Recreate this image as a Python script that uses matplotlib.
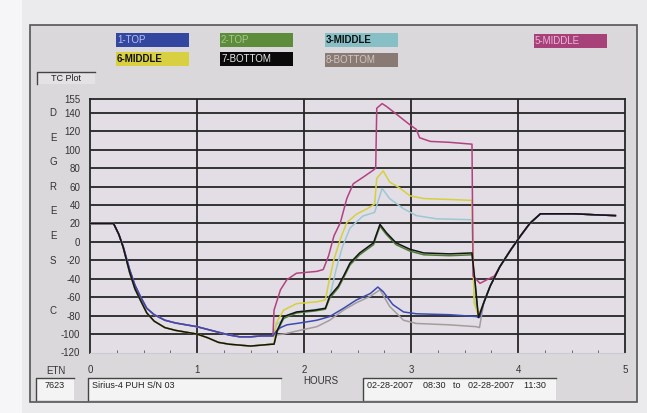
import matplotlib
matplotlib.use("Agg")
import matplotlib.pyplot as plt
from matplotlib.patches import Rectangle
from matplotlib.ticker import MultipleLocator

plt.rcParams['font.family'] = ['Liberation Sans Narrow', 'Liberation Sans', 'DejaVu Sans']

# ---------------- data ----------------
series_names = ["1-TOP", "2-TOP", "3-MIDDLE", "5-MIDDLE", "6-MIDDLE", "7-BOTTOM", "8-BOTTOM"]

t_cool = [0, 0.22, 0.27, 0.31, 0.37, 0.42, 0.47, 0.53, 0.60, 0.70, 0.80, 0.90,
          1.00, 1.10, 1.20, 1.30, 1.40, 1.50, 1.60, 1.70]
cool_upper = [20, 20, 8, -5, -30, -47, -59, -72, -79, -85, -88, -90,
              -92, -95, -98, -101, -103, -103, -102, -102]
cool_lower = [20, 20, 8, -6, -33, -51, -63, -77, -86, -93, -96, -98,
              -100, -104, -109, -111, -112, -113, -112, -111]

t_warm = [3.68, 3.74, 3.83, 3.93, 4.02, 4.11, 4.21, 4.35, 4.52, 4.70, 4.91]
warm = [-66, -48, -27, -9, 6, 20, 30.5, 30.5, 30.5, 29.5, 28.5]

t_top1 = [1.71, 1.74, 1.78, 1.84, 1.96, 2.12, 2.24, 2.37, 2.49, 2.62, 2.69, 2.74,
          2.83, 2.93, 3.05, 3.36, 3.61, 3.64]
v_top1 = [-102, -97, -93, -90, -88, -85, -81, -72, -63, -56, -49, -54,
          -68, -76, -78, -79, -81, -82]

t_bot7 = [1.72, 1.75, 1.81, 1.93, 2.10, 2.20, 2.24, 2.32, 2.37, 2.43, 2.52, 2.65,
          2.67, 2.71, 2.77, 2.86, 2.99, 3.12, 3.36, 3.57, 3.60, 3.63]
v_bot7 = [-111, -96, -81, -76, -74, -72, -59, -48, -37, -23, -12, -1,
          6, 19, 10, -1, -8, -12, -13, -12, -45, -82]
v_top2 = [-111, -97, -83, -77, -75, -73, -61, -50, -39, -25, -14, -3,
          4, 17, 8, -3, -10, -14, -15, -14, -47, -82]

t_mid6 = [1.72, 1.74, 1.81, 1.93, 2.12, 2.20, 2.23, 2.28, 2.34, 2.40, 2.49, 2.59,
          2.66, 2.68, 2.74, 2.80, 2.90, 2.99, 3.12, 3.36, 3.57, 3.59, 3.63]
v_mid6 = [-111, -88, -74, -67, -65, -63, -45, -19, 3, 21, 30, 36,
          41, 69, 77, 65, 58, 50, 47, 46, 45, -66, -80]

t_mid3 = [1.71, 1.74, 1.85, 2.00, 2.20, 2.25, 2.30, 2.36, 2.43, 2.55, 2.66, 2.73,
          2.80, 2.93, 3.05, 3.24, 3.57, 3.59, 3.63]
v_mid3 = [-102, -90, -80, -75, -72, -55, -30, -5, 15, 28, 32, 58,
          47, 36, 28.5, 25, 24, -60, -80]

t_mid5 = [1.71, 1.72, 1.78, 1.84, 1.93, 2.12, 2.18, 2.23, 2.28, 2.34, 2.40, 2.46,
          2.55, 2.65, 2.67, 2.68, 2.73, 2.77, 2.87, 2.99, 3.05, 3.08, 3.18, 3.36,
          3.57, 3.58, 3.645, 3.71, 3.78]
v_mid5 = [-102, -74, -52, -41, -34, -32, -30, -15, 6.5, 21, 47, 63,
          70, 78, 80, 145, 150, 147, 138, 127, 122, 113, 109, 108,
          106, -37, -45, -41, -37]

t_bot8 = [1.71, 1.74, 1.81, 1.96, 2.12, 2.24, 2.37, 2.49, 2.62, 2.71, 2.80, 2.93,
          3.05, 3.36, 3.61, 3.64]
v_bot8 = [-102, -101, -100, -96, -92, -85, -74, -66, -59, -52, -70, -85,
          -88.5, -90, -92, -93]

y_ticks = [155, 140, 120, 100, 80, 60, 40, 20, 0, -20, -40, -60, -80, -100, -120]
x_ticks = [0, 1, 2, 3, 4, 5]
ylabel_letters = ["D", "E", "G", "R", "E", "E", "S", "C"]
ylabel_pos = [140, 113, 87, 60, 33, 6.5, -21, -75]

# ---------------- colours ----------------
line_colors = {"1-TOP": "#3b4bb0", "2-TOP": "#4d7d33", "3-MIDDLE": "#9cc8d2",
               "5-MIDDLE": "#b2427f", "6-MIDDLE": "#d6d03c", "7-BOTTOM": "#151515",
               "8-BOTTOM": "#a59c9c"}
legend_colors = {"1-TOP": "#3347a0", "2-TOP": "#5d8d3b", "3-MIDDLE": "#86bfc6",
                 "5-MIDDLE": "#a8407a", "6-MIDDLE": "#d8d040", "7-BOTTOM": "#0a0a0a",
                 "8-BOTTOM": "#8a7a74"}
legend_text = {"1-TOP": "#b8c0ee", "2-TOP": "#a8c890", "3-MIDDLE": "#111111",
               "5-MIDDLE": "#e8b8d8", "6-MIDDLE": "#111111", "7-BOTTOM": "#e8e8e8",
               "8-BOTTOM": "#d0c8c4"}

W, H = 647, 413
fig = plt.figure(figsize=(W / 100, H / 100), dpi=100)
fig.patch.set_facecolor("#ebebee")

# background (pixel coordinates)
bg = fig.add_axes([0, 0, 1, 1])
bg.set_xlim(0, W)
bg.set_ylim(H, 0)
bg.axis("off")
bg.add_patch(Rectangle((0, 0), 22, H, facecolor="#f6f6f8", edgecolor="none"))
bg.add_patch(Rectangle((30, 25), 607, 377, facecolor="#dbd8db", edgecolor="#555555", lw=1.2))

# legend patches
legend_layout = {"1-TOP": (116, 33), "2-TOP": (220, 33), "3-MIDDLE": (325, 33),
                 "5-MIDDLE": (534, 34), "6-MIDDLE": (116, 52), "7-BOTTOM": (220, 52),
                 "8-BOTTOM": (325, 53)}
for name in series_names:
    x0, y0 = legend_layout[name]
    bg.add_patch(Rectangle((x0, y0), 73, 14, facecolor=legend_colors[name], edgecolor="none"))
    bold = legend_text[name] == "#111111"
    bg.text(x0 + 1, y0 + 7, name, color=legend_text[name], fontsize=7,
            fontweight="bold" if bold else "normal", va="center", ha="left")

# TC Plot box
bg.add_patch(Rectangle((37, 72), 58, 12, facecolor="#e4e2e4", edgecolor="none"))
bg.plot([37, 37, 95], [84, 72, 72], color="#444444", lw=1)
bg.text(66, 78.5, "TC Plot", fontsize=6.5, color="#222222", ha="center", va="center")

# DEGREES C letters
# (positioned after main axes is created)

# bottom boxes
def sunk_box(x0, y0, w, h, text, ha="left"):
    bg.add_patch(Rectangle((x0, y0), w, h, facecolor="#f4f4f4", edgecolor="none"))
    bg.plot([x0, x0, x0 + w], [y0 + h, y0, y0], color="#444444", lw=1)
    if ha == "left":
        bg.text(x0 + 4, y0 + 7, text, fontsize=6.5, color="#222222", ha="left", va="center")
    else:
        bg.text(x0 + w / 2, y0 + 7, text, fontsize=6.5, color="#222222", ha="center", va="center")

bg.text(56, 371, "ETN", fontsize=7, color="#333333", ha="center", va="center")
sunk_box(36, 378, 38, 22, "7623", ha="center")
sunk_box(88, 378, 193, 22, "Sirius-4 PUH S/N 03")
sunk_box(363, 378, 193, 22, "02-28-2007    08:30   to   02-28-2007    11:30")
bg.text(321, 381, "HOURS", fontsize=7, color="#333333", ha="center", va="center")

# ---------------- main plot ----------------
left, right, top, bottom = 90, 625, 99, 352.5
ax = fig.add_axes([left / W, (H - bottom) / H, (right - left) / W, (bottom - top) / H])
ax.set_facecolor("#e3dde6")
ax.set_xlim(0, 5)
ax.set_ylim(-120, 155)

for yv in y_ticks[1:-1]:
    ax.axhline(yv, color="#262626", lw=1.3, zorder=1)
for xv in x_ticks[1:-1]:
    ax.axvline(xv, color="#262626", lw=1.3, zorder=1)

def build(tmid, vmid, cool, warm_from=0):
    t = list(t_cool) + list(tmid) + list(t_warm[warm_from:])
    v = list(cool) + list(vmid) + list(warm[warm_from:])
    return t, v

curves = {
    "8-BOTTOM": build(t_bot8, v_bot8, cool_upper),
    "3-MIDDLE": build(t_mid3, v_mid3, cool_upper),
    "2-TOP": build(t_bot7, v_top2, cool_lower),
    "6-MIDDLE": build(t_mid6, v_mid6, cool_lower),
    "5-MIDDLE": build(t_mid5, v_mid5, cool_upper, warm_from=2),
    "1-TOP": build(t_top1, v_top1, cool_upper),
    "7-BOTTOM": build(t_bot7, v_bot7, cool_lower),
}
for name, (t, v) in curves.items():
    ax.plot(t, v, color=line_colors[name], lw=1.1, zorder=3)

ax.set_yticks(y_ticks)
ax.set_yticklabels([str(v) for v in y_ticks])
ax.set_xticks(x_ticks)
ax.set_xticklabels([str(v) for v in x_ticks])
ax.xaxis.set_minor_locator(MultipleLocator(0.25))
ax.tick_params(axis="y", length=0, pad=7, labelsize=7, labelcolor="#333333")
ax.tick_params(axis="x", which="major", length=0, pad=9, labelsize=7, labelcolor="#333333")
ax.tick_params(axis="x", which="minor", direction="in", length=2, color="#555555")
for s in ["left", "top", "right"]:
    ax.spines[s].set_color("#262626")
    ax.spines[s].set_linewidth(1.3)
ax.spines["bottom"].set_color("#cfcbd2")

for letter, yv in zip(ylabel_letters, ylabel_pos):
    ax.text(-0.345, yv, letter, fontsize=7, color="#333333", ha="center", va="center",
            transform=ax.transData, clip_on=False)

fig.savefig("out.png", dpi=100, facecolor=fig.get_facecolor())
